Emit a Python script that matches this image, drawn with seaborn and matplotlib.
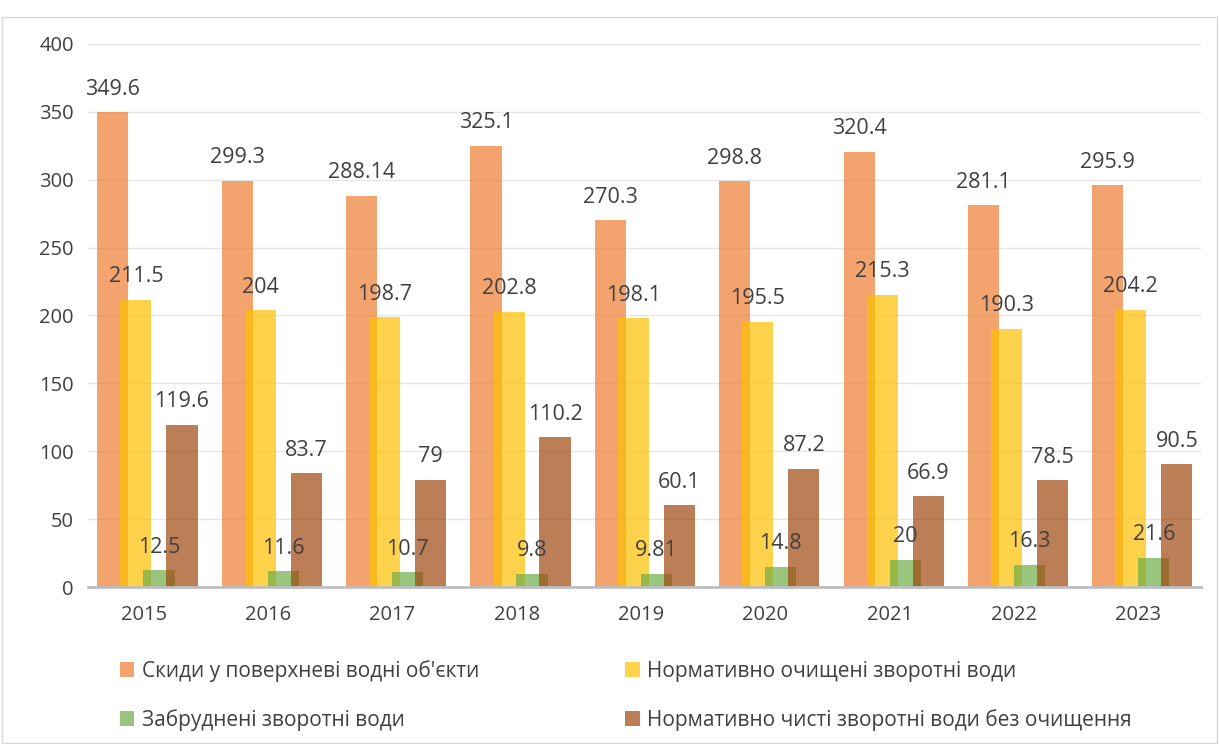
import numpy as np
import pandas as pd
import matplotlib.pyplot as plt
import seaborn as sns

sns.set_theme(style="white")
plt.rcParams['font.family'] = ['Open Sans', 'DejaVu Sans']

years = ['2015', '2016', '2017', '2018', '2019', '2020', '2021', '2022', '2023']
series_names = [
    "Скиди у поверхневі водні об'єкти",
    "Нормативно очищені зворотні води",
    "Забруднені зворотні води",
    "Нормативно чисті зворотні води без очищення",
]
discharge = [349.6, 299.3, 288.14, 325.1, 270.3, 298.8, 320.4, 281.1, 295.9]
treated = [211.5, 204, 198.7, 202.8, 198.1, 195.5, 215.3, 190.3, 204.2]
polluted = [12.5, 11.6, 10.7, 9.8, 9.81, 14.8, 20, 16.3, 21.6]
clean_untreated = [119.6, 83.7, 79, 110.2, 60.1, 87.2, 66.9, 78.5, 90.5]
labels_text = [
    ['349.6', '299.3', '288.14', '325.1', '270.3', '298.8', '320.4', '281.1', '295.9'],
    ['211.5', '204', '198.7', '202.8', '198.1', '195.5', '215.3', '190.3', '204.2'],
    ['12.5', '11.6', '10.7', '9.8', '9.81', '14.8', '20', '16.3', '21.6'],
    ['119.6', '83.7', '79', '110.2', '60.1', '87.2', '66.9', '78.5', '90.5'],
]
colors = ['#ED7D31', '#FFC000', '#70AD47', '#9E480E']

rows = []
for name, vals in zip(series_names, [discharge, treated, polluted, clean_untreated]):
    for y, v in zip(years, vals):
        rows.append({'year': y, 'value': v, 'series': name})
df = pd.DataFrame(rows)

fig = plt.figure(figsize=(12.19, 7.44), dpi=100)
ax = fig.add_axes([0.072, 0.211, 0.913, 0.73])

sns.barplot(data=df, x='year', y='value', hue='series', hue_order=series_names,
            palette=colors, ax=ax, alpha=0.7, legend=True, saturation=1,
            linewidth=0, errorbar=None)

# overlapping bars like the original
w = 0.25
step = 0.185
shift = 0.03
for i, cont in enumerate(ax.containers):
    for j, p in enumerate(cont.patches):
        c = j + shift + (i - 1.5) * step
        p.set_x(c - w / 2)
        p.set_width(w)
        ax.annotate(labels_text[i][j], (c, p.get_height()), xytext=(0, 9),
                    textcoords='offset points', ha='center', va='bottom',
                    fontsize=15.5, color='#404040')

ax.set_ylim(0, 400)
ax.set_xlim(-0.45, 8.5)
ax.set_yticks(range(0, 401, 50))
ax.yaxis.grid(True, color='#E6E6E6', linewidth=1)
ax.set_axisbelow(True)
for s in ['top', 'right', 'left']:
    ax.spines[s].set_visible(False)
ax.spines['bottom'].set_color('#BFBFBF')
ax.spines['bottom'].set_linewidth(2)
ax.tick_params(axis='y', labelsize=14.5, colors='#404040', length=0, pad=10)
ax.tick_params(axis='x', labelsize=14.5, colors='#404040', length=0, pad=13)
ax.set_xlabel('')
ax.set_ylabel('')

# legend filled row by row
handles, lbls = ax.get_legend_handles_labels()
order = [0, 2, 1, 3]
ax.legend([handles[k] for k in order], [lbls[k] for k in order],
          loc='upper left', bbox_to_anchor=(0.012, -0.1), ncol=2,
          frameon=False, fontsize=15, handlelength=0.7, handleheight=0.7,
          handletextpad=0.35, columnspacing=7.0, labelspacing=1.3,
          labelcolor='#404040')

fig.patches.append(plt.Rectangle((0.002, 0.002), 0.996, 0.975, transform=fig.transFigure,
                                 fill=False, edgecolor='#D9D9D9', linewidth=1))

fig.savefig('out.png', dpi=100)
